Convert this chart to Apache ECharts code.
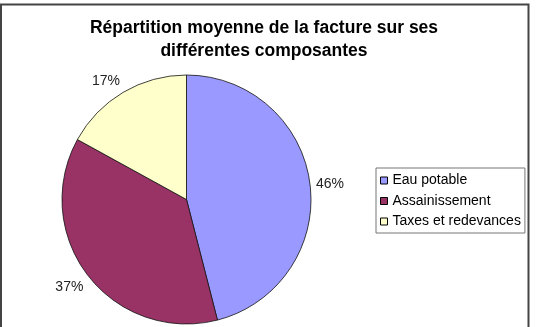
<!DOCTYPE html>
<html><head><meta charset="utf-8">
<script src="https://cdn.jsdelivr.net/npm/echarts@6/dist/echarts.min.js"></script>
<style>html,body{margin:0;padding:0;background:#fff;}#c{width:537px;height:327px;}</style>
</head><body><div id="c"></div>
<script>
const categories = ["Eau potable", "Assainissement", "Taxes et redevances"];
const values = [46, 37, 17];
const colors = ["#9999FF", "#993366", "#FFFFCC"];
const titleText = "Répartition moyenne de la facture sur ses\ndifférentes composantes";

const CX = 186.5, CY = 199.5, R = 124.5, GAP = 6;
const total = values.reduce((a, b) => a + b, 0);
function midDir(i) {
  let cum = 0;
  for (let k = 0; k < i; k++) cum += values[k];
  const a = (cum + values[i] / 2) / total * Math.PI * 2;
  return [Math.sin(a), -Math.cos(a)];
}
function blend(d) { return Math.sign(d) * Math.max(0, Math.min(1, (Math.abs(d) - 0.15) / 0.3)); }

const chart = echarts.init(document.getElementById('c'));
chart.setOption({
  animation: false,
  backgroundColor: '#fff',
  title: {
    text: titleText,
    left: 259, top: 12, textAlign: 'center',
    textStyle: {fontFamily: 'Liberation Sans, Arial', fontSize: 17.5, fontWeight: 'bold', color: '#000', lineHeight: 23}
  },
  graphic: [{
    type: 'rect', silent: true,
    shape: {x: 1, y: 4.5, width: 527.5, height: 340},
    style: {fill: 'none', stroke: '#444', lineWidth: 2}
  }],
  legend: {
    orient: 'vertical',
    left: 376, top: 168,
    padding: [4.5, 4, 3.5, 4],
    borderColor: '#777', borderWidth: 1,
    itemWidth: 7, itemHeight: 7, itemGap: 4.5,
    icon: 'rect',
    itemStyle: {borderColor: '#000', borderWidth: 1},
    textStyle: {fontFamily: 'Liberation Sans, Arial', fontSize: 14, lineHeight: 16, color: '#000'},
    data: categories
  },
  series: [{
    type: 'pie',
    center: [CX, CY],
    radius: R,
    startAngle: 90,
    clockwise: true,
    data: categories.map((n, i) => ({name: n, value: values[i], itemStyle: {color: colors[i]}})),
    itemStyle: {borderColor: '#111', borderWidth: 0.8},
    label: {
      show: true, position: 'outside',
      formatter: '{d}%',
      fontFamily: 'Liberation Sans, Arial', fontSize: 14, color: '#222'
    },
    labelLine: {show: false, length: 0, length2: 0},
    labelLayout: function (p) {
      const d = midDir(p.dataIndex);
      const w = p.labelRect.width, h = 14;
      const dist = R + GAP;
      return {
        x: CX + d[0] * dist + blend(d[0]) * w / 2,
        y: CY + d[1] * dist + blend(d[1]) * h / 2 + 1,
        align: 'center', verticalAlign: 'middle'
      };
    },
    emphasis: {disabled: true}
  }]
});
</script></body></html>
